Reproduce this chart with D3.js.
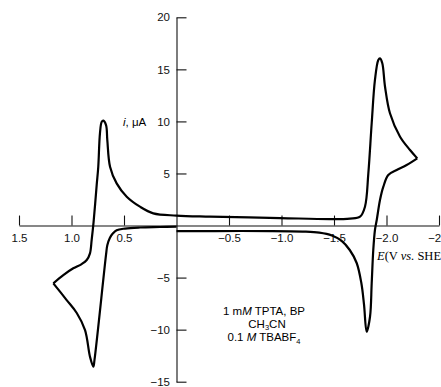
<!DOCTYPE html>
<html lang="en">
<head>
<meta charset="UTF-8">
<title>CV TPTA BP</title>
<style>
  body { margin: 0; background: #fff; }
  svg { display: block; }
  .tick text { font-family: "Liberation Sans", Arial, sans-serif; font-size: 11.5px; fill: #111; }
</style>
</head>
<body>
<script src="https://d3js.org/d3.v7.min.js"></script>
<div id="chart"></div>
<script>
// potentials (V vs SHE) and currents (uA)
// scan 1: 0 V toward positive, oxidation of TPTA
var scan1 = [
  [0.0, -0.1], [0.157, -0.14], [0.348, -0.19], [0.49, -0.29], [0.57, -0.45],
  [0.605, -0.75], [0.635, -1.2], [0.659, -1.9], [0.671, -2.8], [0.781, -12.9], [0.792, -13.56],
  [0.824, -12.6], [0.871, -10.04], [0.95, -8.4], [1.046, -7.16], [1.173, -5.55]
];
// scan 2: +1.17 V back through 0 to -2.29 V
var scan2 = [
  [1.173, -5.55], [1.078, -4.76], [0.983, -4.11], [0.903, -3.7], [0.855, -3.31],
  [0.824, -2.67], [0.808, -1.39], [0.79, 0.3], [0.76, 3.9], [0.745, 5.65], [0.729, 8.86],
  [0.712, 9.97], [0.697, 10.07], [0.671, 9.65], [0.659, 8.21], [0.633, 5.65],
  [0.57, 4.05], [0.474, 2.77], [0.348, 1.81], [0.221, 1.17], [0.0, 0.96],
  [-0.319, 0.86], [-0.986, 0.72], [-1.462, 0.62], [-1.652, 0.67], [-1.748, 0.85],
  [-1.795, 1.81], [-1.827, 5.01], [-1.859, 9.82], [-1.89, 13.98], [-1.922, 15.9],
  [-1.938, 16.06], [-1.96, 15.58], [-1.986, 13.33], [-2.033, 10.78], [-2.129, 8.53],
  [-2.224, 7.25], [-2.293, 6.45]
];
// scan 3: -2.29 V back to 0 V, reoxidation of BP radical anion
var scan3 = [
  [-2.293, 6.45], [-2.192, 5.81], [-2.097, 5.33], [-2.017, 4.85], [-1.97, 3.73],
  [-1.938, 2.45], [-1.907, 0.53], [-1.89, -0.43], [-1.874, -2.35], [-1.859, -5.55],
  [-1.843, -8.76], [-1.811, -10.2], [-1.786, -7.6], [-1.76, -5.5], [-1.716, -3.6],
  [-1.65, -2.35], [-1.57, -1.45], [-1.48, -0.95], [-1.36, -0.68], [-1.2, -0.58],
  [-0.89, -0.53], [-0.367, -0.53], [0.0, -0.53]
];

var xTicks = [1.5, 1.0, 0.5, -0.5, -1.0, -1.5, -2.0, -2.5];
var yTicks = [20, 15, 10, 5, -5, -10, -15];

var width = 441, height = 387;

var svg = d3.select("#chart")
  .append("svg")
  .attr("width", width)
  .attr("height", height);

var x = d3.scaleLinear().domain([1.5, -2.5]).range([19, 439]);
var y = d3.scaleLinear().domain([20, -15]).range([17.3, 381.7]);

// x axis, ticks pointing up
var xAxis = svg.append("g")
  .attr("transform", "translate(0," + y(0) + ")")
  .call(d3.axisBottom(x)
    .tickValues(xTicks)
    .tickFormat(d3.format(".1f"))
    .tickSizeInner(-10)
    .tickSizeOuter(0)
    .tickPadding(8));

// y axis, ticks pointing right
var yAxis = svg.append("g")
  .attr("transform", "translate(" + x(0) + ",0)")
  .call(d3.axisLeft(y)
    .tickValues(yTicks)
    .tickFormat(d3.format("d"))
    .tickSizeInner(-10)
    .tickSizeOuter(0)
    .tickPadding(6.5));

svg.selectAll(".domain, .tick line")
  .attr("stroke", "#111")
  .attr("stroke-width", 1.1);

var line = d3.line()
  .x(function(d) { return x(d[0]); })
  .y(function(d) { return y(d[1]); })
  .curve(d3.curveCatmullRom.alpha(0.5));

[scan1, scan2, scan3].forEach(function(s) {
  svg.append("path")
    .attr("d", line(s))
    .attr("fill", "none")
    .attr("stroke", "#000")
    .attr("stroke-width", 2.2)
    .attr("stroke-linejoin", "round");
});

// axis titles
var sans = "'Liberation Sans', Arial, sans-serif";
var serif = "'Liberation Serif', 'Times New Roman', serif";

var iLabel = svg.append("text")
  .attr("x", 123)
  .attr("y", 126)
  .style("font-family", sans)
  .style("font-size", "11.5px");
iLabel.append("tspan").style("font-style", "italic").text("i");
iLabel.append("tspan").text(", \u03bcA");

var eLabel = svg.append("text")
  .attr("x", 377)
  .attr("y", 260)
  .style("font-family", serif)
  .style("font-size", "12.5px");
eLabel.append("tspan").style("font-style", "italic").text("E");
eLabel.append("tspan").text("(V ");
eLabel.append("tspan").style("font-style", "italic").text("vs.");
eLabel.append("tspan").text(" SHE)");

// conditions note
var cx = 264;
var n1 = svg.append("text").attr("x", cx).attr("y", 315)
  .attr("text-anchor", "middle")
  .style("font-family", sans).style("font-size", "11.5px");
n1.append("tspan").text("1 m");
n1.append("tspan").style("font-style", "italic").text("M");
n1.append("tspan").text(" TPTA, BP");

var n2 = svg.append("text").attr("x", cx + 3).attr("y", 327.5)
  .attr("text-anchor", "middle")
  .style("font-family", sans).style("font-size", "11.5px");
n2.append("tspan").text("CH");
n2.append("tspan").attr("dy", 2.5).style("font-size", "7.5px").text("3");
n2.append("tspan").attr("dy", -2.5).text("CN");

var n3 = svg.append("text").attr("x", cx).attr("y", 341)
  .attr("text-anchor", "middle")
  .style("font-family", sans).style("font-size", "11.5px");
n3.append("tspan").text("0.1 ");
n3.append("tspan").style("font-style", "italic").text("M");
n3.append("tspan").text(" TBABF");
n3.append("tspan").attr("dy", 2.5).style("font-size", "7.5px").text("4");
</script>
</body>
</html>
